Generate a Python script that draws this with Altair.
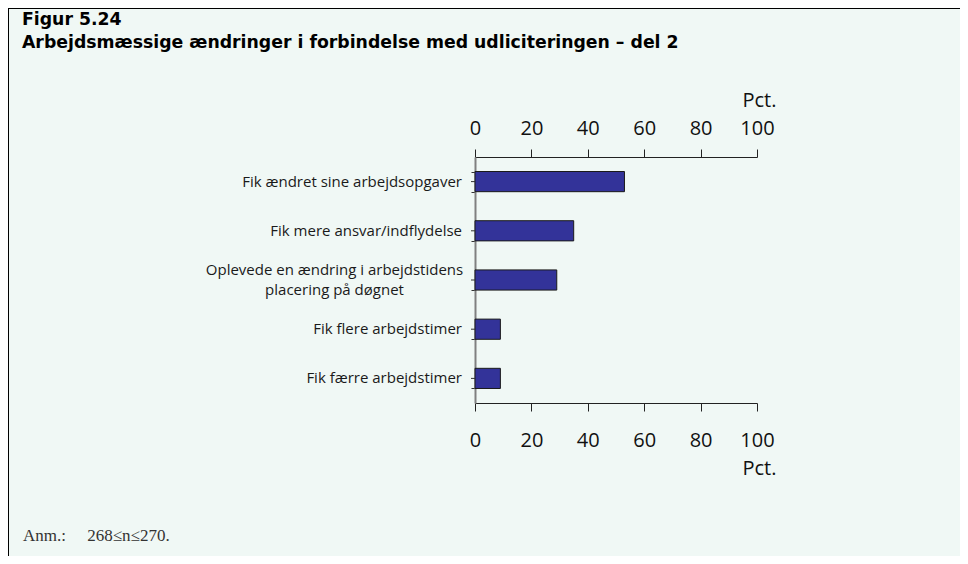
import altair as alt
import pandas as pd

categories = [
    "Fik ændret sine arbejdsopgaver",
    "Fik mere ansvar/indflydelse",
    "Oplevede en ændring i arbejdstidens|placering på døgnet",
    "Fik flere arbejdstimer",
    "Fik færre arbejdstimer",
]
values = [53, 35, 29, 9, 9]
x_ticks = [0, 20, 40, 60, 80, 100]
title_lines = "Figur 5.24\nArbejdsmæssige ændringer i forbindelse med udliciteringen – del 2"
note = "Anm.:\u00a0\u00a0\u00a0\u00a0\u00a0268≤n≤270."

df = pd.DataFrame({"cat": categories, "val": values})
df["multi"] = df["cat"].str.contains("|", regex=False)

y_axis = alt.Axis(
    title=None, labels=False,
    tickSize=4, tickBand="extent", tickColor="#333333",
    domainColor="#808080", domainWidth=2,
)
y_scale = alt.Scale(paddingInner=0.59, paddingOuter=0.295)
y_enc = alt.Y("cat:N", sort=categories, axis=y_axis, scale=y_scale)

x_scale = alt.Scale(domain=[0, 100], nice=False)

top_axis = alt.Axis(
    orient="top", values=x_ticks, tickSize=8, labelPadding=15, labelBaseline="alphabetic",
    labelFont="Open Sans", labelFontSize=20, labelColor="#111111", labelFlush=False,
    grid=False, domainColor="#222222", tickColor="#222222",
    title="Pct.", titleFont="Open Sans", titleFontSize=20, titleFontWeight="normal",
    titleColor="#111111", titleX=301, titleY=-51, titleAlign="right", titleBaseline="alphabetic",
)
bottom_axis = alt.Axis(
    orient="bottom", values=x_ticks, tickSize=8, labelPadding=35, labelBaseline="alphabetic",
    labelFont="Open Sans", labelFontSize=20, labelColor="#111111", labelFlush=False,
    grid=False, domainColor="#222222", tickColor="#222222",
    title="Pct.", titleFont="Open Sans", titleFontSize=20, titleFontWeight="normal",
    titleColor="#111111", titleX=301, titleY=71, titleAlign="right", titleBaseline="alphabetic",
)

bars = alt.Chart(df).mark_bar(color="#333399", stroke="#1a1a1a", strokeWidth=1).encode(
    x=alt.X("val:Q", scale=x_scale, axis=top_axis),
    y=y_enc,
)
bars_bottom = alt.Chart(df).mark_bar(opacity=0).encode(
    x=alt.X("val:Q", scale=x_scale, axis=bottom_axis),
    y=y_enc,
)
center_ticks = alt.Chart(df).mark_rule(color="#333333", strokeWidth=1).encode(
    y=y_enc, x=alt.value(-4), x2=alt.value(0),
)

labels_single = alt.Chart(df).transform_filter("!datum.multi").mark_text(
    align="right", baseline="middle", font="Open Sans", fontSize=15, color="#1a1a1a",
).encode(y=y_enc, text="cat:N", x=alt.value(-13))

labels_multi = alt.Chart(df).transform_filter("datum.multi").mark_text(
    align="center", baseline="middle", font="Open Sans", fontSize=15, color="#1a1a1a",
    lineBreak="|", lineHeight=20, dy=-10,
).encode(y=y_enc, text="cat:N", x=alt.value(-140.5))

title = alt.Chart(pd.DataFrame({"t": [title_lines]})).mark_text(
    align="left", baseline="alphabetic", font="DejaVu Sans", fontSize=17.3, fontWeight="bold",
    color="#000000", lineBreak="\n", lineHeight=23,
).encode(text="t:N", x=alt.value(-453), y=alt.value(-132.5))

footnote = alt.Chart(pd.DataFrame({"t": [note]})).mark_text(
    align="left", baseline="alphabetic", font="Liberation Serif", fontSize=17, color="#333333",
).encode(text="t:N", x=alt.value(-452), y=alt.value(384))

frame_top = alt.Chart(pd.DataFrame({"a": [0]})).mark_rule(color="#000000", strokeWidth=1).encode(
    x=alt.value(-467), x2=alt.value(485), y=alt.value(-148.5)
)
frame_left = alt.Chart(pd.DataFrame({"a": [0]})).mark_rule(color="#000000", strokeWidth=1).encode(
    x=alt.value(-466.5), y=alt.value(-149), y2=alt.value(399)
)

chart = alt.layer(
    bars, bars_bottom, center_ticks, labels_single, labels_multi,
    title, footnote, frame_top, frame_left
).resolve_axis(x="independent").properties(
    width=282, height=246,
    padding={"left": 467, "top": 149, "right": 203, "bottom": 153},
    autosize=alt.AutoSizeParams(type="none"),
    background="#f0f8f5",
).configure_view(stroke=None)

chart.save("out.html", embed_options={"renderer": "svg", "actions": False})
